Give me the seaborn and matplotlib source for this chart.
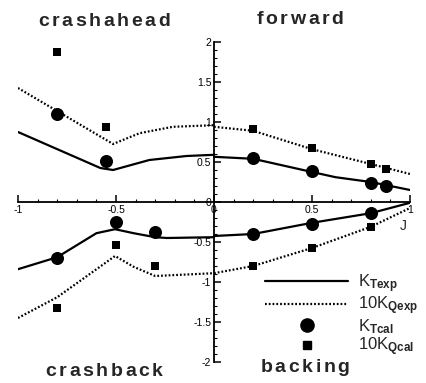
import matplotlib
matplotlib.use("Agg")
import matplotlib.pyplot as plt
from matplotlib.lines import Line2D
from matplotlib.ticker import MultipleLocator
import numpy as np
import pandas as pd
import seaborn as sns

# ---- measured thrust / torque coefficients in the four quadrants ----
# crashahead (J < 0, positive loads)
ahead_kt_J = [-1.0, -0.58, -0.515, -0.33, -0.14, 0.0]
ahead_kt = [0.875, 0.425, 0.40, 0.525, 0.575, 0.59]
ahead_kq_J = [-1.0, -0.515, -0.38, -0.21, 0.0]
ahead_kq = [1.425, 0.725, 0.86, 0.94, 0.96]
# forward (J > 0, positive loads)
fwd_kt_J = [0.0, 0.2, 0.5, 0.62, 0.8, 0.88, 1.0]
fwd_kt = [0.565, 0.54, 0.375, 0.31, 0.25, 0.21, 0.15]
fwd_kq_J = [0.0, 0.2, 0.5, 0.8, 1.0]
fwd_kq = [0.94, 0.89, 0.66, 0.475, 0.35]
# crashback (J < 0, negative loads)
back_kt_J = [-1.0, -0.80, -0.60, -0.505, -0.41, -0.30, -0.24, 0.0]
back_kt = [-0.84, -0.69, -0.39, -0.34, -0.39, -0.44, -0.45, -0.44]
back_kq_J = [-1.0, -0.80, -0.505, -0.41, -0.30, 0.0]
back_kq = [-1.45, -1.19, -0.675, -0.81, -0.925, -0.89]
# backing (J > 0, negative loads)
bkg_kt_J = [0.0, 0.2, 0.5, 0.8, 1.0]
bkg_kt = [-0.425, -0.40, -0.26, -0.14, -0.01]
bkg_kq_J = [0.0, 0.2, 0.5, 0.8, 1.0]
bkg_kq = [-0.89, -0.80, -0.575, -0.31, -0.075]

# ---- computed values ----
cal_kt_J = [-0.8, -0.55, 0.2, 0.5, 0.8, 0.88, -0.8, -0.5, -0.3, 0.2, 0.5, 0.8]
cal_kt = [1.10, 0.51, 0.545, 0.39, 0.24, 0.20, -0.70, -0.25, -0.375, -0.40, -0.27, -0.14]
cal_kq_J = [-0.8, -0.55, 0.2, 0.5, 0.8, 0.88, -0.8, -0.5, -0.3, 0.2, 0.5, 0.8]
cal_kq = [1.875, 0.94, 0.91, 0.675, 0.475, 0.41, -1.325, -0.54, -0.80, -0.80, -0.57, -0.31]

x_ticks = [-1.0, -0.5, 0.0, 0.5, 1.0]
x_tick_labels = ["-1", "-0.5", "0", "0.5", "1"]
y_ticks = [-2.0, -1.5, -1.0, -0.5, 0.0, 0.5, 1.0, 1.5, 2.0]
y_tick_labels = ["-2", "-1.5", "-1", "-0.5", "0", "0.5", "1", "1.5", "2"]
legend_labels = [r"K$_{\mathbf{Texp}}$", r"10K$_{\mathbf{Qexp}}$",
                 r"K$_{\mathbf{Tcal}}$", r"10K$_{\mathbf{Qcal}}$"]
quadrant_titles = ["crashahead", "forward", "crashback", "backing"]

sns.set_style("white")
plt.rcParams["font.family"] = ["Liberation Sans", "DejaVu Sans"]
plt.rcParams["mathtext.fontset"] = "custom"
plt.rcParams["mathtext.rm"] = "Liberation Sans"
plt.rcParams["mathtext.bf"] = "Liberation Sans:bold"
plt.rcParams["mathtext.it"] = "Liberation Sans:italic"
plt.rcParams["axes.unicode_minus"] = False

W, H = 426, 383
fig = plt.figure(figsize=(W / 100, H / 100), dpi=100)
ax = fig.add_axes([18 / W, 1 - 362 / H, (410 - 18) / W, (362 - 42) / H])
ax.set_facecolor("none")

solid_kw = dict(color="black", linewidth=1.6, linestyle="-")
dot_kw = dict(color="black", linewidth=1.6, linestyle=(0, (0.8, 0.9)))

exp_curves = [
    (ahead_kt_J, ahead_kt, solid_kw), (ahead_kq_J, ahead_kq, dot_kw),
    (fwd_kt_J, fwd_kt, solid_kw), (fwd_kq_J, fwd_kq, dot_kw),
    (back_kt_J, back_kt, solid_kw), (back_kq_J, back_kq, dot_kw),
    (bkg_kt_J, bkg_kt, solid_kw), (bkg_kq_J, bkg_kq, dot_kw),
]
for xs, ys, kw in exp_curves:
    df = pd.DataFrame({"J": xs, "K": ys})
    sns.lineplot(data=df, x="J", y="K", ax=ax, sort=False, estimator=None, **kw)

cal_t = pd.DataFrame({"J": cal_kt_J, "K": cal_kt})
cal_q = pd.DataFrame({"J": cal_kq_J, "K": cal_kq})
sns.scatterplot(data=cal_t, x="J", y="K", ax=ax, marker="o", s=88,
                color="black", edgecolor="black", linewidth=0, zorder=5)
sns.scatterplot(data=cal_q, x="J", y="K", ax=ax, marker="s", s=36,
                color="black", edgecolor="black", linewidth=0, zorder=5)

ax.set_xlim(-1.0, 1.0)
ax.set_ylim(-2.0, 2.0)
ax.set_xlabel("")
ax.set_ylabel("")

# axes crossing at the origin
for side in ("top", "right"):
    ax.spines[side].set_visible(False)
ax.spines["left"].set_position(("data", 0))
ax.spines["bottom"].set_position(("data", 0))
for side in ("left", "bottom"):
    ax.spines[side].set_linewidth(1.3)
    ax.spines[side].set_color("black")

ax.set_xticks(x_ticks)
ax.set_xticklabels(x_tick_labels)
ax.set_yticks(y_ticks)
ax.set_yticklabels(y_tick_labels)
ax.xaxis.set_minor_locator(MultipleLocator(0.1))
ax.yaxis.set_minor_locator(MultipleLocator(0.1))
ax.tick_params(which="major", direction="in", length=5, width=1.1,
               color="black", labelsize=7.5, pad=2, labelcolor="black")
ax.tick_params(which="minor", direction="in", length=2.5, width=0.8,
               color="black")
ax.tick_params(axis="x", bottom=True, which="both")
ax.tick_params(axis="y", left=True, which="both")

ax.text(403 / W, 1 - 226 / H, "J", transform=fig.transFigure,
        fontsize=10, ha="center", va="center")


def spaced_title(text, cx, cy, gap, size):
    renderer = fig.canvas.get_renderer()
    widths = []
    for ch in text:
        t = fig.text(0, 0, ch, fontsize=size, fontweight="bold")
        widths.append(t.get_window_extent(renderer).width)
        t.remove()
    total = sum(widths) + gap * (len(text) - 1)
    x = cx - total / 2
    for ch, w in zip(text, widths):
        fig.text(x / W, 1 - cy / H, ch, fontsize=size, fontweight="bold",
                 ha="left", va="center")
        x += w + gap


title_pos = [(104, 22), (300, 20), (104, 371), (305, 368)]
for txt, (cx, cy) in zip(quadrant_titles, title_pos):
    spaced_title(txt, cx, cy, 2.6, 14)

handles = [
    Line2D([], [], **solid_kw),
    Line2D([], [], **dot_kw),
    Line2D([], [], color="black", marker="o", linestyle="none", markersize=9.5),
    Line2D([], [], color="black", marker="s", linestyle="none", markersize=6),
]
fig.legend(handles, legend_labels, loc="upper left",
           bbox_to_anchor=(265 / W, 1 - 272 / H), bbox_transform=fig.transFigure,
           frameon=False, fontsize=12, handlelength=5.0, handletextpad=0.55,
           labelspacing=0.0, borderpad=0, borderaxespad=0, numpoints=1)

fig.savefig("out.png", dpi=100)
